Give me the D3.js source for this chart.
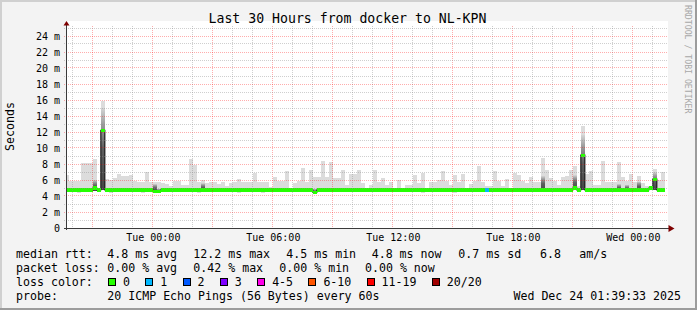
<!DOCTYPE html>
<html>
<head>
<meta charset="utf-8">
<script src="https://cdn.jsdelivr.net/npm/d3@7"></script>
<style>
  html, body { margin: 0; padding: 0; background: #f3f3f3; }
  svg { display: block; }
  text { font-family: "DejaVu Sans Mono", monospace; fill: #000; white-space: pre; }
</style>
</head>
<body>
<div id="chart"></div>
<script>
// ---- data (12 minute consolidated steps, values in ms) ----
const firstStep = new Date(2025, 11, 22, 19, 36, 0);
const startTime = new Date(2025, 11, 22, 19, 39, 33);
const endTime = new Date(2025, 11, 24, 1, 39, 33);
const stepMinutes = 12;

const smokeMax = [
  6.6, 5.9, 5.9, 5.9, 8.1, 8.1, 8.1, 8.6, 5.0, 15.9,
  6.1, 6.0, 6.2, 6.8, 6.5, 6.5, 6.6, 5.9, 5.8, 5.8,
  7.0, 5.8, 5.8, 5.7, 5.6, 5.5, 5.2, 5.9, 5.9, 5.4,
  5.4, 8.6, 7.9, 5.7, 6.0, 5.6, 5.7, 5.7, 5.5, 5.7,
  5.3, 5.6, 5.7, 6.1, 5.7, 5.7, 5.7, 6.9, 5.8, 5.8,
  5.8, 5.1, 6.4, 5.9, 5.9, 7.1, 5.0, 5.6, 5.9, 7.5,
  5.8, 7.3, 6.4, 6.4, 8.4, 6.4, 8.2, 6.2, 6.2, 7.2,
  5.4, 6.8, 6.8, 7.2, 5.6, 5.0, 5.4, 7.25, 5.7, 6.2,
  5.4, 5.7, 5.0, 6.0, 5.0, 5.4, 5.4, 6.6, 5.6, 6.9,
  5.0, 5.8, 5.8, 6.0, 7.1, 5.9, 5.4, 6.6, 5.7, 6.8,
  5.0, 5.5, 5.9, 7.75, 5.8, 5.2, 5.2, 7.1, 5.9, 5.2,
  6.1, 5.0, 6.9, 6.6, 5.9, 5.6, 6.4, 5.8, 5.8, 8.8,
  7.25, 6.2, 5.9, 5.4, 6.4, 6.5, 7.25, 7.75, 5.2, 12.75,
  6.8, 7.1, 5.4, 5.4, 8.4, 5.7, 5.7, 5.7, 8.2, 6.4,
  5.9, 6.7, 5.8, 6.5, 5.6, 5.2, 5.3, 7.4, 6.0, 7.0
];

const smokeHi = [
  4.9, 4.9, 4.9, 4.9, 4.9, 4.9, 4.9, 6.0, 4.9, 15.0,
  4.9, 4.9, 4.9, 4.9, 4.9, 4.9, 4.9, 4.9, 4.9, 4.9,
  4.9, 4.9, 5.5, 4.9, 4.9, 4.9, 4.9, 4.9, 4.9, 4.9,
  4.9, 4.9, 4.9, 4.9, 5.6, 4.9, 4.9, 4.9, 4.9, 4.9,
  4.9, 4.9, 4.9, 4.9, 4.9, 4.9, 4.9, 4.9, 4.9, 4.9,
  4.9, 4.9, 4.9, 4.9, 4.9, 4.9, 4.9, 4.9, 4.9, 4.9,
  4.9, 4.9, 4.9, 4.9, 4.9, 4.9, 4.9, 4.9, 4.9, 4.9,
  4.9, 4.9, 4.9, 4.9, 4.9, 4.9, 4.9, 4.9, 4.9, 4.9,
  4.9, 4.9, 4.9, 4.9, 4.9, 4.9, 4.9, 4.9, 4.9, 4.9,
  4.9, 4.9, 4.9, 4.9, 4.9, 4.9, 4.9, 4.9, 4.9, 4.9,
  4.9, 4.9, 4.9, 4.9, 4.9, 4.9, 4.9, 4.9, 4.9, 4.9,
  4.9, 4.9, 4.9, 4.9, 4.9, 4.9, 4.9, 4.9, 4.9, 6.5,
  4.9, 4.9, 4.9, 4.9, 4.9, 4.9, 4.9, 6.6, 4.9, 11.6,
  4.9, 4.9, 4.9, 4.9, 4.9, 4.9, 4.9, 4.9, 5.5, 4.9,
  5.4, 4.9, 4.9, 5.8, 4.9, 4.9, 5.2, 7.0, 4.9, 4.9
];

const smokeMin = [
  4.6, 4.6, 4.6, 4.4, 4.6, 4.6, 4.6, 4.6, 4.6, 4.7,
  4.6, 4.4, 4.6, 4.6, 4.6, 4.6, 4.6, 4.6, 4.6, 4.4,
  4.6, 4.6, 4.5, 4.5, 4.6, 4.6, 4.6, 4.6, 4.6, 4.6,
  4.6, 4.6, 4.6, 4.4, 4.6, 4.6, 4.6, 4.6, 4.6, 4.6,
  4.6, 4.6, 4.6, 4.4, 4.6, 4.6, 4.6, 4.6, 4.6, 4.4,
  4.6, 4.6, 4.6, 4.6, 4.6, 4.6, 4.6, 4.6, 4.6, 4.6,
  4.6, 4.6, 4.3, 4.6, 4.6, 4.6, 4.6, 4.6, 4.6, 4.6,
  4.6, 4.6, 4.6, 4.6, 4.6, 4.6, 4.6, 4.6, 4.6, 4.6,
  4.6, 4.6, 4.6, 4.6, 4.6, 4.6, 4.6, 4.6, 4.6, 4.4,
  4.6, 4.6, 4.6, 4.6, 4.6, 4.6, 4.6, 4.4, 4.6, 4.6,
  4.6, 4.6, 4.6, 4.6, 4.6, 4.6, 4.6, 4.6, 4.6, 4.6,
  4.6, 4.6, 4.6, 4.6, 4.6, 4.6, 4.6, 4.6, 4.6, 4.6,
  4.6, 4.6, 4.6, 4.6, 4.6, 4.6, 4.6, 4.7, 4.6, 4.7,
  4.6, 4.6, 4.6, 4.6, 4.6, 4.6, 4.6, 4.6, 4.6, 4.6,
  4.6, 4.6, 4.6, 4.6, 4.6, 4.6, 4.7, 4.7, 4.6, 4.6
];

const median = [
  4.75, 4.75, 4.75, 4.75, 4.75, 4.75, 4.75, 5.0, 4.75, 12.2,
  4.75, 4.75, 4.75, 4.75, 4.75, 4.75, 4.75, 4.75, 4.75, 4.75,
  4.75, 4.75, 4.6, 4.6, 4.75, 4.75, 4.75, 4.75, 4.75, 4.75,
  4.75, 4.75, 4.75, 4.75, 4.75, 4.75, 4.75, 4.75, 4.75, 4.75,
  4.75, 4.75, 4.75, 4.75, 4.75, 4.75, 4.75, 4.75, 4.75, 4.75,
  4.75, 4.75, 4.75, 4.75, 4.75, 4.75, 4.75, 4.75, 4.75, 4.75,
  4.75, 4.75, 4.45, 4.75, 4.75, 4.75, 4.75, 4.75, 4.75, 4.75,
  4.75, 4.75, 4.75, 4.75, 4.75, 4.75, 4.75, 4.75, 4.75, 4.75,
  4.75, 4.75, 4.75, 4.75, 4.75, 4.75, 4.75, 4.75, 4.75, 4.75,
  4.75, 4.75, 4.75, 4.75, 4.75, 4.75, 4.75, 4.75, 4.75, 4.75,
  4.75, 4.75, 4.75, 4.75, 4.75, 4.75, 4.75, 4.75, 4.75, 4.75,
  4.75, 4.75, 4.75, 4.75, 4.75, 4.75, 4.75, 4.75, 4.75, 4.75,
  4.75, 4.75, 4.75, 4.75, 4.75, 4.75, 4.75, 5.0, 4.75, 9.1,
  4.75, 4.75, 4.75, 4.75, 4.75, 4.75, 4.75, 4.75, 4.75, 4.75,
  4.75, 4.75, 4.75, 4.75, 4.75, 4.75, 5.0, 6.1, 4.75, 4.75
];

const lossCount = [
  0, 0, 0, 0, 0, 0, 0, 0, 0, 0,
  0, 0, 0, 0, 0, 0, 0, 0, 0, 0,
  0, 0, 0, 0, 0, 0, 0, 0, 0, 0,
  0, 0, 0, 0, 0, 0, 0, 0, 0, 0,
  0, 0, 0, 0, 0, 0, 0, 0, 0, 0,
  0, 0, 0, 0, 0, 0, 0, 0, 0, 0,
  0, 0, 0, 0, 0, 0, 0, 0, 0, 0,
  0, 0, 0, 0, 0, 0, 0, 0, 0, 0,
  0, 0, 0, 0, 0, 0, 0, 0, 0, 0,
  0, 0, 0, 0, 0, 0, 0, 0, 0, 0,
  0, 0, 0, 0, 0, 1, 0, 0, 0, 0,
  0, 0, 0, 0, 0, 0, 0, 0, 0, 0,
  0, 0, 0, 0, 0, 0, 0, 0, 0, 0,
  0, 0, 0, 0, 0, 0, 0, 0, 0, 0,
  0, 0, 0, 0, 0, 0, 0, 0, 0, 0
];

const lossLabels = ['0', '1', '2', '3', '4-5', '6-10', '11-19', '20/20'];
const lossColors = ['#26ff00', '#00b8ff', '#0059ff', '#7e00ff', '#ff00ea', '#ff5500', '#ff0000', '#a10000'];
const lossUpper = [0, 1, 2, 3, 5, 10, 19, 20];

const yTickValues = [0, 2, 4, 6, 8, 10, 12, 14, 16, 18, 20, 22, 24];
const xTickTimes = [
  new Date(2025, 11, 23, 0, 0), new Date(2025, 11, 23, 6, 0), new Date(2025, 11, 23, 12, 0),
  new Date(2025, 11, 23, 18, 0), new Date(2025, 11, 24, 0, 0)
];

const title = 'Last 30 Hours from docker to NL-KPN';
const rttStats = ['4.8 ms avg', '12.2 ms max', '4.5 ms min', '4.8 ms now', '0.7 ms sd', '6.8', 'am/s'];
const lossStats = ['0.00 % avg', '0.42 % max', '0.00 % min', '0.00 % now'];
const probeText = '20 ICMP Echo Pings (56 Bytes) every 60s';
const stampText = 'Wed Dec 24 01:39:33 2025';

// ---- drawing ----
const w = 697, h = 310;
const plotLeft = 66, plotRight = 666, plotTop = 28, plotBottom = 228;

const svg = d3.select('#chart').append('svg')
  .attr('width', w)
  .attr('height', h);

const defs = svg.append('defs');
const grad = defs.append('linearGradient')
  .attr('id', 'smokeDark')
  .attr('x1', 0).attr('y1', 0).attr('x2', 0).attr('y2', 1);
grad.append('stop').attr('offset', 0).attr('stop-color', '#d4d4d4');
grad.append('stop').attr('offset', 0.2).attr('stop-color', '#9c9c9c');
grad.append('stop').attr('offset', 0.5).attr('stop-color', '#5e5e5e');
grad.append('stop').attr('offset', 1).attr('stop-color', '#444');

defs.append('clipPath').attr('id', 'plotClip')
  .append('rect')
  .attr('x', plotLeft).attr('y', 0)
  .attr('width', plotRight - plotLeft).attr('height', plotBottom + 1);

// background and frame
svg.append('rect').attr('width', w).attr('height', h).attr('fill', '#f3f3f3');
svg.append('path').attr('d', `M0,1H${w}M1,0V${h}`)
  .attr('stroke', '#d0d0d0').attr('stroke-width', 2).attr('fill', 'none');
svg.append('path').attr('d', `M0,${h - 1}H${w}M${w - 1},0V${h}`)
  .attr('stroke', '#9c9c9c').attr('stroke-width', 2).attr('fill', 'none');

svg.append('rect')
  .attr('x', plotLeft).attr('y', 21)
  .attr('width', plotRight - plotLeft + 2).attr('height', plotBottom - 21)
  .attr('fill', '#fff');

const x = d3.scaleTime().domain([startTime, endTime]).range([plotLeft, plotRight]);
const y = d3.scaleLinear().domain([0, 25]).range([plotBottom, plotTop]);

const steps = median.map((m, i) => ({
  t0: d3.timeMinute.offset(firstStep, i * stepMinutes),
  t1: d3.timeMinute.offset(firstStep, (i + 1) * stepMinutes),
  med: m,
  max: smokeMax[i],
  hi: smokeHi[i],
  min: smokeMin[i],
  loss: lossCount[i]
}));

const plot = svg.append('g').attr('clip-path', 'url(#plotClip)');

// smoke
plot.append('g').selectAll('rect')
  .data(steps)
  .enter()
  .append('rect')
  .attr('x', d => x(d.t0))
  .attr('width', d => x(d.t1) - x(d.t0))
  .attr('y', d => y(d.max))
  .attr('height', d => y(d.min) - y(d.max))
  .attr('fill', '#dcdcdc')
  .attr('shape-rendering', 'crispEdges');

plot.append('g').selectAll('rect')
  .data(steps.filter(d => d.hi > d.med + 0.2))
  .enter()
  .append('rect')
  .attr('x', d => x(d.t0))
  .attr('width', d => x(d.t1) - x(d.t0))
  .attr('y', d => y(d.hi))
  .attr('height', d => y(d.min) - y(d.hi))
  .attr('fill', 'url(#smokeDark)')
  .attr('shape-rendering', 'crispEdges');

// median line (black step)
const linePts = steps.map(d => [d.t0, d.med]);
linePts.push([steps[steps.length - 1].t1, steps[steps.length - 1].med]);
plot.append('path')
  .datum(linePts)
  .attr('d', d3.line().x(d => x(d[0])).y(d => y(d[1])).curve(d3.curveStepAfter))
  .attr('fill', 'none')
  .attr('stroke', '#202020')
  .attr('stroke-width', 1.2);

// loss coloured median band
const lossColor = n => lossColors[lossUpper.findIndex(u => n <= u)];
plot.append('g').selectAll('rect')
  .data(steps)
  .enter()
  .append('rect')
  .attr('x', d => x(d.t0))
  .attr('width', d => x(d.t1) - x(d.t0))
  .attr('y', d => y(d.med) - 1.6)
  .attr('height', 3.2)
  .attr('fill', d => lossColor(d.loss))
  .attr('shape-rendering', 'crispEdges');

// grid on top (rrdtool style dotted)
const grid = svg.append('g').attr('shape-rendering', 'crispEdges');
const hours = d3.timeHour.range(d3.timeHour.ceil(startTime), endTime);
hours.forEach(hr => {
  const px = Math.floor(x(hr)) + 0.5;
  grid.append('line')
    .attr('x1', px).attr('x2', px)
    .attr('y1', plotTop - 2).attr('y2', plotBottom + 2)
    .attr('stroke', hr.getHours() % 3 === 0 ? 'rgba(255,0,0,0.32)' : 'rgba(140,140,140,0.42)')
    .attr('stroke-dasharray', '1,1');
});
d3.range(1, 26).forEach(v => {
  const py = Math.floor(y(v)) + 0.5;
  grid.append('line')
    .attr('x1', plotLeft - 2).attr('x2', plotRight + 2)
    .attr('y1', py).attr('y2', py)
    .attr('stroke', v % 2 === 0 ? 'rgba(255,0,0,0.32)' : 'rgba(140,140,140,0.42)')
    .attr('stroke-dasharray', '1,1');
});

// axes lines + arrows
svg.append('line')
  .attr('x1', plotLeft + 0.5).attr('x2', plotLeft + 0.5)
  .attr('y1', plotBottom + 2).attr('y2', 25)
  .attr('stroke', '#3a3a3a').attr('shape-rendering', 'crispEdges');
svg.append('line')
  .attr('x1', plotLeft - 2).attr('x2', plotRight + 3)
  .attr('y1', plotBottom + 0.5).attr('y2', plotBottom + 0.5)
  .attr('stroke', '#3a3a3a').attr('shape-rendering', 'crispEdges');
svg.append('path')
  .attr('d', `M${plotLeft - 2.5},25.5L${plotLeft + 3.5},25.5L${plotLeft + 0.5},21Z`)
  .attr('fill', '#7f0000');
svg.append('path')
  .attr('d', `M668.5,${plotBottom - 3}L668.5,${plotBottom + 4}L674.5,${plotBottom + 0.5}Z`)
  .attr('fill', '#7f0000');

// axis labels through d3 axes
const yAxis = d3.axisLeft(y)
  .tickValues(yTickValues)
  .tickSize(0)
  .tickPadding(0)
  .tickFormat(d => d === 0 ? '0' : d + ' m');
const gy = svg.append('g')
  .attr('transform', 'translate(60,0)')
  .call(yAxis);
gy.select('.domain').remove();
gy.selectAll('text')
  .attr('font-family', '"DejaVu Sans Mono", monospace')
  .attr('font-size', 10);

const xAxis = d3.axisBottom(x)
  .tickValues(xTickTimes)
  .tickSize(0)
  .tickPadding(6)
  .tickFormat(d3.timeFormat('%a %H:%M'));
const gx = svg.append('g')
  .attr('transform', `translate(0,${plotBottom})`)
  .call(xAxis);
gx.select('.domain').remove();
gx.selectAll('text')
  .attr('font-family', '"DejaVu Sans Mono", monospace')
  .attr('font-size', 10);

// titles
svg.append('text')
  .attr('x', 347.5).attr('y', 23)
  .attr('text-anchor', 'middle')
  .attr('font-size', '13.2px')
  .text(title);

svg.append('text')
  .attr('transform', 'translate(14,126.5) rotate(-90)')
  .attr('text-anchor', 'middle')
  .attr('font-size', '11.6px')
  .text('Seconds');

svg.append('text')
  .attr('transform', 'translate(684.5,5) rotate(90)')
  .attr('font-size', '8.2px')
  .style('fill', '#a8a8a8')
  .text('RRDTOOL / TOBI OETIKER');

// legend
const legend = svg.append('g').attr('font-size', '11.6px');
const row = (label, yy) => legend.append('text').attr('x', 16).attr('y', yy).text(label);

row('median rtt:', 258);
[107.3, 193.3, 286.3, 371.7, 458.3, 540, 579.3].forEach((px, i) => {
  legend.append('text').attr('x', px).attr('y', 258).text(rttStats[i]);
});

row('packet loss:', 272);
[107.3, 193.3, 279.3, 365].forEach((px, i) => {
  legend.append('text').attr('x', px).attr('y', 272).text(lossStats[i]);
});

row('loss color:', 286);
let cx = 108;
lossLabels.forEach((lab, i) => {
  legend.append('rect')
    .attr('x', cx + 0.5).attr('y', 278.5)
    .attr('width', 7).attr('height', 7)
    .attr('fill', lossColors[i])
    .attr('stroke', '#000').attr('stroke-width', 1)
    .attr('shape-rendering', 'crispEdges');
  const t = legend.append('text').attr('x', cx + 15).attr('y', 286).text(lab);
  cx = cx + 15 + t.node().getComputedTextLength() + 15.3;
});

row('probe:', 300);
legend.append('text').attr('x', 107.3).attr('y', 300).text(probeText);
legend.append('text').attr('x', 681).attr('y', 300).attr('text-anchor', 'end').text(stampText);
</script>
</body>
</html>
